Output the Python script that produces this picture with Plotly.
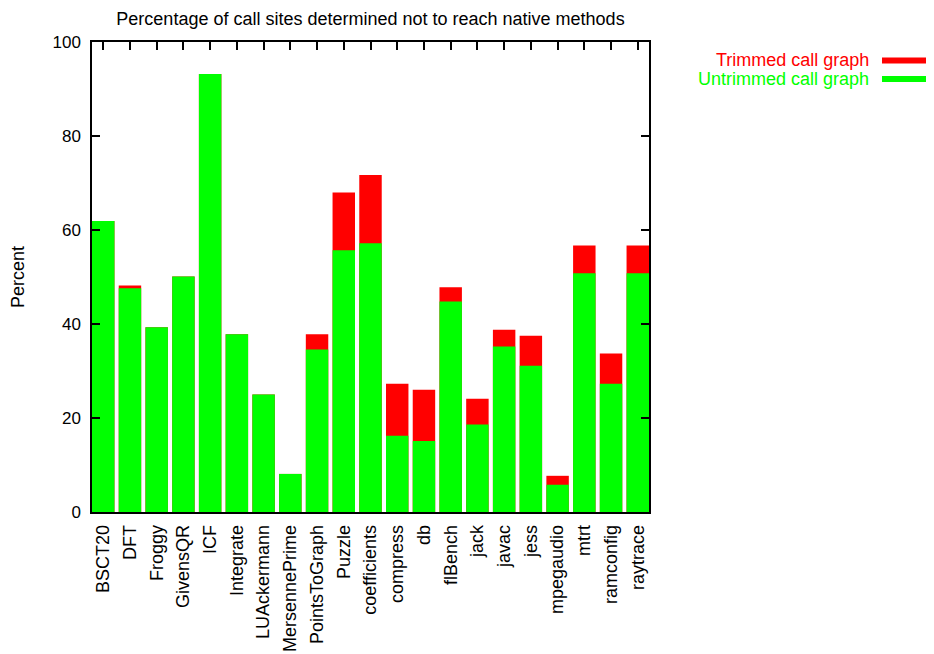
import plotly.graph_objects as go

categories = ["BSCT20", "DFT", "Froggy", "GivensQR", "ICF", "Integrate", "LUAckermann",
              "MersennePrime", "PointsToGraph", "Puzzle", "coefficients", "compress", "db",
              "flBench", "jack", "javac", "jess", "mpegaudio", "mtrt", "ramconfig", "raytrace"]
trimmed = [61.9, 48.2, 39.3, 50.1, 93.2, 37.8, 25.0, 8.1, 37.8, 68.0, 71.7, 27.3, 26.0,
           47.8, 24.1, 38.8, 37.5, 7.7, 56.7, 33.7, 56.7]
untrimmed = [61.9, 47.6, 39.3, 50.1, 93.2, 37.8, 25.0, 8.1, 34.6, 55.7, 57.2, 16.2, 15.1,
             44.8, 18.6, 35.2, 31.1, 5.8, 50.8, 27.3, 50.8]
y_ticks = [0, 20, 40, 60, 80, 100]

RED = "#ff0000"
GREEN = "#00ff00"
FONT = "Liberation Sans, Arial, sans-serif"

fig = go.Figure()
fig.add_trace(go.Bar(x=categories, y=trimmed, name="Trimmed call graph",
                     marker=dict(color=RED, line=dict(width=0)), width=0.84))
fig.add_trace(go.Bar(x=categories, y=untrimmed, name="Untrimmed call graph",
                     marker=dict(color=GREEN, line=dict(width=0)), width=0.84))

W, H = 934, 654
OFF = 8  # page body margin
PL, PR, PT, PB = 92, 649, 42, 512  # plot area in page pixels
L = PL - OFF
T = PT - OFF
R = W - (PR - OFF)
B = H - (PB - OFF)
pw = PR - PL
ph = PB - PT

def px(xp):
    return (xp - PL) / pw

def py(yp):
    return (PB - yp) / ph

fig.update_layout(
    width=W, height=H,
    barmode="overlay",
    showlegend=False,
    plot_bgcolor="white",
    paper_bgcolor="white",
    margin=dict(l=L, r=R, t=T, b=B, pad=0, autoexpand=False),
    font=dict(family=FONT, size=18, color="black"),
    title=dict(text="Percentage of call sites determined not to reach native methods",
               x=0.5, xref="paper", xanchor="center", yref="container", y=1, yanchor="top",
               pad=dict(t=4, b=0, l=0, r=0),
               font=dict(size=18, color="black")),
    xaxis=dict(type="category", range=[-0.42, len(categories) - 0.58], automargin=False,
               tickangle=-90, ticks="inside", ticklen=8, tickwidth=1.5, tickcolor="black",
               showline=True, linecolor="black", linewidth=1.5, mirror="ticks",
               showgrid=False, zeroline=False, layer="below traces",
               tickfont=dict(size=18), ticklabelstandoff=4),
    yaxis=dict(range=[0, 100], tickvals=y_ticks, ticks="inside", ticklen=8, tickwidth=1.5,
               tickcolor="black", showline=True, linecolor="black", linewidth=1.5,
               mirror="ticks", showgrid=False, zeroline=False, automargin=False,
               ticklabelposition="outside", ticklabelstandoff=6,
               tickfont=dict(size=17),
               title=dict(text="Percent", font=dict(size=18), standoff=31)),
)

legend_items = [("Trimmed call graph", RED, 60.5), ("Untrimmed call graph", GREEN, 79)]
for text, color, yp in legend_items:
    fig.add_annotation(text=text, xref="paper", yref="paper", x=px(871), y=py(yp),
                       xanchor="right", yanchor="middle", showarrow=False,
                       font=dict(size=18, color=color, family=FONT))
    fig.add_shape(type="line", xref="paper", yref="paper", x0=px(882), x1=px(930),
                  y0=py(yp), y1=py(yp), line=dict(color=color, width=6))

fig.write_html("out.html")
